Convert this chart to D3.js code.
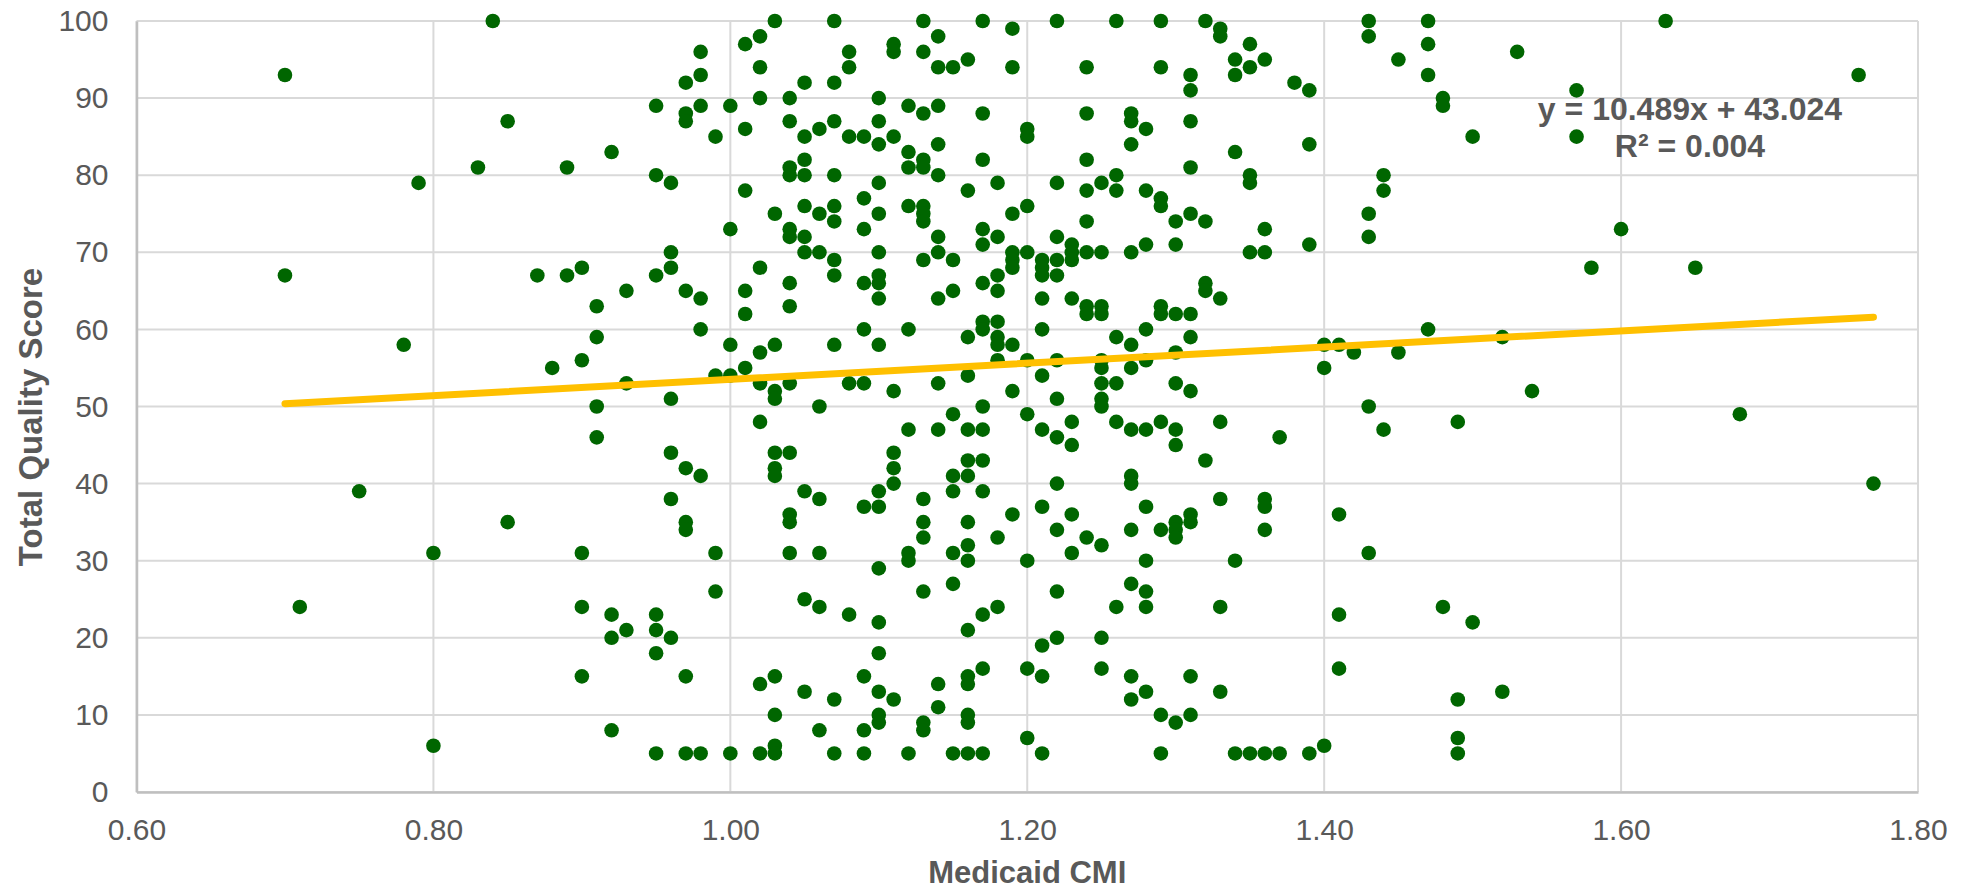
<!DOCTYPE html>
<html>
<head>
<meta charset="utf-8">
<script src="https://d3js.org/d3.v7.min.js"></script>
<style>
  body { margin: 0; background: #fff; }
  text { font-family: "Liberation Sans", Arial, sans-serif; }
</style>
</head>
<body>
<script>
// Medicaid CMI levels and the scores seen at each level
const cmi = [
  0.70, 0.71, 0.75, 0.78, 0.79, 0.80, 0.83, 0.84, 0.85, 0.87, 0.88, 0.89, 0.90, 0.91, 0.92, 0.93,
  0.95, 0.96, 0.97, 0.98, 0.99, 1.00, 1.01, 1.02, 1.03, 1.04, 1.05, 1.06, 1.07, 1.08, 1.09, 1.10,
  1.11, 1.12, 1.13, 1.14, 1.15, 1.16, 1.17, 1.18, 1.19, 1.20, 1.21, 1.22, 1.23, 1.24, 1.25, 1.26,
  1.27, 1.28, 1.29, 1.30, 1.31, 1.32, 1.33, 1.34, 1.35, 1.36, 1.37, 1.38, 1.39, 1.40, 1.41, 1.42,
  1.43, 1.44, 1.45, 1.47, 1.48, 1.49, 1.50, 1.52, 1.53, 1.54, 1.57, 1.58, 1.60, 1.63, 1.65, 1.68,
  1.76, 1.77
];

const scores = [
  [93, 67], [24], [39], [58], [79], [31, 6], [81], [100], [87, 35], [67], [55], [81, 67],
  [68, 56, 31, 24, 15], [63, 59, 50, 46], [83, 23, 20, 8], [65, 53, 21],
  [89, 80, 67, 23, 21, 18, 5],
  [79, 70, 68, 51, 44, 38, 20],
  [92, 88, 87, 65, 42, 35, 34, 15, 5],
  [96, 93, 89, 64, 60, 41, 5],
  [85, 54, 31, 26],
  [89, 73, 58, 54, 5],
  [97, 86, 78, 65, 62, 55],
  [98, 94, 90, 68, 57, 53, 48, 14, 5],
  [100, 75, 58, 52, 51, 44, 42, 41, 15, 10, 6, 5],
  [90, 87, 81, 80, 73, 72, 66, 63, 53, 44, 36, 35, 31],
  [92, 85, 82, 80, 76, 72, 70, 39, 25, 13],
  [86, 75, 70, 50, 38, 31, 24, 8],
  [100, 92, 87, 80, 76, 74, 69, 67, 58, 12, 5],
  [96, 94, 85, 53, 23],
  [85, 77, 73, 66, 60, 53, 37, 15, 8, 5],
  [90, 87, 84, 79, 75, 70, 67, 66, 64, 58, 39, 37, 29, 22, 18, 13, 10, 9],
  [97, 96, 85, 52, 44, 42, 40, 12],
  [89, 83, 81, 76, 60, 47, 31, 30, 5],
  [100, 96, 88, 82, 81, 76, 75, 74, 69, 38, 35, 33, 26, 9, 8],
  [98, 94, 89, 84, 80, 72, 70, 64, 53, 47, 14, 11],
  [94, 69, 65, 49, 41, 39, 31, 27, 5],
  [95, 78, 59, 54, 47, 43, 41, 35, 32, 30, 21, 15, 14, 10, 9, 5],
  [100, 88, 82, 73, 71, 66, 61, 60, 50, 47, 43, 39, 23, 16, 5],
  [79, 72, 67, 65, 61, 59, 58, 56, 33, 24],
  [99, 94, 75, 70, 69, 68, 58, 52, 36],
  [86, 85, 76, 70, 56, 49, 30, 16, 7],
  [69, 68, 67, 64, 60, 54, 47, 37, 19, 15, 5],
  [100, 79, 72, 69, 67, 56, 51, 46, 40, 34, 26, 20],
  [71, 70, 69, 64, 48, 45, 36, 31],
  [94, 88, 82, 78, 74, 70, 63, 62, 33],
  [79, 70, 63, 62, 56, 55, 53, 51, 50, 32, 20, 16],
  [100, 80, 78, 59, 53, 48, 24],
  [88, 87, 84, 70, 58, 55, 47, 41, 40, 34, 27, 15, 12],
  [86, 78, 71, 60, 56, 47, 37, 30, 26, 24, 13],
  [100, 94, 77, 76, 63, 62, 48, 34, 10, 5],
  [74, 71, 62, 57, 53, 47, 45, 35, 34, 33, 9],
  [93, 91, 87, 81, 75, 62, 59, 52, 36, 35, 15, 10],
  [100, 74, 66, 65, 43],
  [99, 98, 64, 48, 38, 24, 13],
  [95, 93, 83, 30, 5],
  [97, 94, 80, 79, 70, 5],
  [95, 73, 70, 38, 37, 34, 5],
  [46, 5], [92], [91, 84, 71, 5], [58, 55, 6], [58, 36, 23, 16], [57],
  [100, 98, 75, 72, 50, 31], [80, 78, 47], [95, 57], [100, 97, 93, 60], [90, 89, 24],
  [48, 12, 7, 5], [85, 22], [59, 13], [96], [52], [91, 85], [68], [73], [100], [68], [49],
  [93], [40]
];

const xTicks = [0.6, 0.8, 1.0, 1.2, 1.4, 1.6, 1.8];
const yTicks = [0, 10, 20, 30, 40, 50, 60, 70, 80, 90, 100];

// Excel trendline
const trendSlope = 10.489;
const trendIntercept = 43.024;
const trendLines = ["y = 10.489x + 43.024", "R\u00b2 = 0.004"];

const points = [];
cmi.forEach((c, i) => scores[i].forEach(s => points.push({ cmi: c, score: s })));

const margin = { top: 21, right: 52, bottom: 99, left: 136.5 };
const width = 1970 - margin.left - margin.right;
const height = 891 - margin.top - margin.bottom;

const x = d3.scaleLinear().domain([0.6, 1.8]).range([0, width]);
const y = d3.scaleLinear().domain([0, 100]).range([height, 0]);

const root = d3.select("body").append("svg")
  .attr("width", 1970)
  .attr("height", 891);

const svg = root.append("g")
  .attr("transform", "translate(" + margin.left + "," + margin.top + ")");

// gridlines
svg.append("g")
  .selectAll("line")
  .data(yTicks)
  .enter().append("line")
  .attr("x1", 0).attr("x2", width)
  .attr("y1", d => y(d)).attr("y2", d => y(d))
  .attr("stroke", "#d9d9d9")
  .attr("stroke-width", 2);

svg.append("g")
  .selectAll("line")
  .data(xTicks)
  .enter().append("line")
  .attr("x1", d => x(d)).attr("x2", d => x(d))
  .attr("y1", 0).attr("y2", height)
  .attr("stroke", "#d9d9d9")
  .attr("stroke-width", 2);

// axes (lines only, labels below)
const xAxis = svg.append("g")
  .attr("transform", "translate(0," + height + ")")
  .call(d3.axisBottom(x).tickValues(xTicks).tickSize(0).tickPadding(27).tickFormat(d3.format(".2f")));

const yAxis = svg.append("g")
  .call(d3.axisLeft(y).tickValues(yTicks).tickSize(0).tickPadding(28));

[xAxis, yAxis].forEach(a => {
  a.select(".domain").attr("stroke", "#bfbfbf").attr("stroke-width", 2.5);
  a.selectAll("text")
    .attr("fill", "#595959")
    .style("font-size", "30px")
    .style("font-family", "'Liberation Sans', Arial, sans-serif");
});

// points
svg.append("g")
  .selectAll("circle")
  .data(points)
  .enter().append("circle")
  .attr("cx", d => x(d.cmi))
  .attr("cy", d => y(d.score))
  .attr("r", 7.3)
  .attr("fill", "#006600");

// trendline over the data range
const xExtent = d3.extent(cmi);
svg.append("line")
  .attr("x1", x(xExtent[0]))
  .attr("y1", y(trendSlope * xExtent[0] + trendIntercept))
  .attr("x2", x(xExtent[1]))
  .attr("y2", y(trendSlope * xExtent[1] + trendIntercept))
  .attr("stroke", "#ffc000")
  .attr("stroke-width", 7)
  .attr("stroke-linecap", "round");

// equation label
root.append("g")
  .selectAll("text")
  .data(trendLines)
  .enter().append("text")
  .attr("x", 1690)
  .attr("y", (d, i) => 120 + i * 37)
  .attr("text-anchor", "middle")
  .attr("fill", "#595959")
  .style("font-size", "32px")
  .style("font-weight", "bold")
  .text(d => d);

// axis titles
root.append("text")
  .attr("x", margin.left + width / 2)
  .attr("y", 883)
  .attr("text-anchor", "middle")
  .attr("fill", "#595959")
  .style("font-size", "31px")
  .style("font-weight", "bold")
  .text("Medicaid CMI");

root.append("text")
  .attr("transform", "translate(42,417) rotate(-90)")
  .attr("text-anchor", "middle")
  .attr("fill", "#595959")
  .style("font-size", "33px")
  .style("font-weight", "bold")
  .text("Total Quality Score");
</script>
</body>
</html>
